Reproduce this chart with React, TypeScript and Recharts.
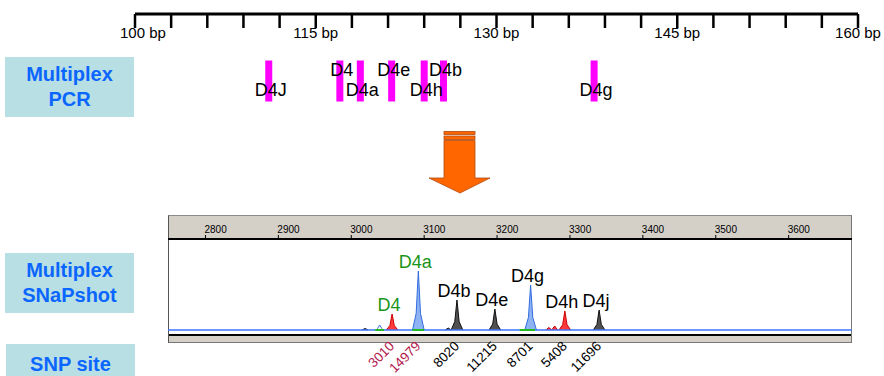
import { Area, ComposedChart, Line, Scatter, XAxis, YAxis } from "recharts";

const FONT = '"Liberation Sans", Arial, sans-serif';

// ruler (bp)
const rulerTicks = [100, 103, 106, 109, 112, 115, 118, 121, 124, 127, 130, 133, 136, 139, 142, 145, 148, 151, 154, 157, 160];
const rulerLabels = [100, 115, 130, 145, 160];

// multiplex PCR products
const pcrLoci = ["D4J", "D4", "D4a", "D4e", "D4h", "D4b", "D4g"];
const pcrSizeBp = [111.1, 117.0, 118.7, 121.3, 124.0, 125.6, 138.1];
const pcrLabelRow = ["low", "high", "low", "high", "low", "high", "low"];

// SNaPshot electropherogram
const scanTicks = [2800, 2900, 3000, 3100, 3200, 3300, 3400, 3500, 3600];
const peakNames = ["D4", "D4a", "D4b", "D4e", "D4g", "D4h", "D4j"];
const peakScan = [3056, 3092, 3145, 3197, 3246, 3293, 3340];
const peakHeight = [16, 59, 30, 21, 45, 19, 20];
const peakDye = ["red", "blue", "black", "black", "blue", "red", "black"];
const peakLabelColor = ["#1a951a", "#1a951a", "#000", "#000", "#000", "#000", "#000"];
const snpIds = ["3010", "14979", "8020", "11215", "8701", "5408", "11696"];
const snpColor = ["#b3164c", "#b3164c", "#000", "#000", "#000", "#000", "#000"];

const minorScan = [3019, 3039, 3133, 3271, 3279];
const minorHeight = [1.5, 5, 2, 2.5, 4];
const minorDye = ["black", "blue", "black", "red", "red"];
const greenSegments = [[3033, 3045], [3084, 3100], [3231, 3252]];

const SCAN_DOMAIN = [2748.6, 3686.9];
const shapeOffsets = [-8, -3, 0, 3, 8];
const shapeFractions = [0, 0.28, 1, 0.28, 0];

const dyeStyle: Record<string, { fill: string; stroke: string }> = {
  red: { fill: "#ff3b3b", stroke: "#cc0000" },
  blue: { fill: "#8db3f2", stroke: "#336ce0" },
  black: { fill: "#505050", stroke: "#111111" },
};

const peakPoints = (center: number, height: number) =>
  shapeOffsets.map((o, i) => ({ x: center + o, y: height * shapeFractions[i] }));

const pcrData = pcrLoci.map((name, i) => ({ name, bp: pcrSizeBp[i], y: 1, row: pcrLabelRow[i] }));
const apexData = peakNames.map((name, i) => ({ name, x: peakScan[i], y: peakHeight[i], color: peakLabelColor[i] }));
const baselineData = [{ x: SCAN_DOMAIN[0], y: 0 }, { x: SCAN_DOMAIN[1], y: 0 }];
const greenData = greenSegments.flatMap(([a, b]) => [{ x: a, y: 0 }, { x: b, y: 0 }, { x: b + 1, y: null }]);

function RulerTick(props: any) {
  const { x, payload } = props;
  const v = payload.value;
  const first = v === rulerTicks[0];
  return (
    <g>
      <line x1={x} x2={x} y1={14} y2={28} stroke="#000" strokeWidth={2.5} />
      {rulerLabels.includes(v) && (
        <text
          x={first ? x - 15 : x}
          y={38}
          textAnchor={first ? "start" : "middle"}
          fontSize={15}
          fontFamily={FONT}
          fill="#000"
        >
          {`${v} bp`}
        </text>
      )}
    </g>
  );
}

function ScanTick(props: any) {
  const { x, payload } = props;
  return (
    <g>
      <line x1={x} x2={x} y1={19} y2={23} stroke="#000" strokeWidth={1} />
      <text x={x - 1} y={17} fontSize={10} fontFamily={FONT} fill="#000">
        {payload.value}
      </text>
    </g>
  );
}

function SnpTick(props: any) {
  const { x, payload } = props;
  const i = peakScan.indexOf(payload.value);
  const px = x + 3;
  const py = 131;
  return (
    <text
      x={px}
      y={py}
      textAnchor="end"
      transform={`rotate(-45 ${px} ${py})`}
      fontSize={13.5}
      fontFamily={FONT}
      fill={snpColor[i]}
    >
      {snpIds[i]}
    </text>
  );
}

function LabelBox({ top, left, height, lines }: { top: number; left: number; height: number; lines: string[] }) {
  return (
    <div
      style={{
        position: "absolute",
        left,
        top,
        width: 129,
        height,
        background: "#b8dfe3",
        color: "#0a66ff",
        fontFamily: FONT,
        fontWeight: "bold",
        fontSize: 20,
        lineHeight: "25px",
        display: "flex",
        flexDirection: "column",
        alignItems: "center",
        justifyContent: "center",
      }}
    >
      {lines.map((l) => (
        <div key={l}>{l}</div>
      ))}
    </div>
  );
}

export default function App() {
  return (
    <div
      style={{
        position: "absolute",
        left: 0,
        top: 0,
        width: 884,
        height: 376,
        overflow: "hidden",
        background: "#fff",
        fontFamily: FONT,
      }}
    >
      <LabelBox left={5} top={57} height={60} lines={["Multiplex", "PCR"]} />
      <LabelBox left={5} top={253} height={60} lines={["Multiplex", "SNaPshot"]} />
      <LabelBox left={6} top={344} height={40} lines={["SNP site"]} />

      {/* ruler + PCR products */}
      <div style={{ position: "absolute", left: 0, top: 0 }}>
        <ComposedChart width={884} height={147} data={pcrData} margin={{ top: 0, right: 26, left: 135, bottom: 0 }}>
          <XAxis
            dataKey="bp"
            type="number"
            orientation="top"
            domain={[100, 160]}
            ticks={rulerTicks}
            interval={0}
            height={14}
            axisLine={{ stroke: "#000", strokeWidth: 3 }}
            tickLine={false}
            tick={<RulerTick />}
          />
          <YAxis dataKey="y" type="number" domain={[0, 2]} hide />
          <Scatter
            isAnimationActive={false}
            shape={(p: any) => <rect x={p.cx - 3.5} y={p.cy - 20} width={7} height={41} fill="#ff00ff" />}
          />
          <Scatter
            isAnimationActive={false}
            shape={(p: any) => (
              <text
                x={p.cx + 2}
                y={p.payload.row === "high" ? p.cy - 5 : p.cy + 15}
                textAnchor="middle"
                fontSize={18}
                fontFamily={FONT}
                fill="#000"
              >
                {p.payload.name}
              </text>
            )}
          />
        </ComposedChart>
      </div>

      {/* arrow */}
      <svg style={{ position: "absolute", left: 0, top: 0 }} width={884} height={376}>
        <rect x={444} y={131.5} width={31} height={3} fill="#ff6600" stroke="#b04a10" strokeWidth={0.8} />
        <rect x={444} y={136} width={31} height={3.5} fill="#ff6600" stroke="#b04a10" strokeWidth={0.8} />
        <polygon
          points="444,140.5 475,140.5 475,178 490,178 460,193 429,178 444,178"
          fill="#ff6600"
          stroke="#b04a10"
          strokeWidth={0.8}
        />
      </svg>

      {/* electropherogram frame */}
      <div
        style={{
          position: "absolute",
          left: 168,
          top: 215,
          width: 682,
          height: 126,
          background: "#d4d0c8",
          borderTop: "1px solid #8a8a8a",
          borderLeft: "1.5px solid #555",
          borderRight: "1.5px solid #777",
          borderBottom: "1px solid #777",
        }}
      />
      <div style={{ position: "absolute", left: 169, top: 240, width: 682, height: 94, background: "#fff" }} />
      <div style={{ position: "absolute", left: 169, top: 334, width: 682, height: 2, background: "#000" }} />

      <div style={{ position: "absolute", left: 168, top: 216 }}>
        <ComposedChart width={684} height={160} margin={{ top: 0, right: 0, left: 0, bottom: 0 }}>
          <XAxis
            xAxisId="scan"
            dataKey="x"
            type="number"
            orientation="top"
            domain={SCAN_DOMAIN}
            allowDataOverflow
            ticks={scanTicks}
            interval={0}
            height={23}
            axisLine={{ stroke: "#000", strokeWidth: 2 }}
            tickLine={false}
            tick={<ScanTick />}
          />
          <XAxis
            xAxisId="snp"
            dataKey="x"
            type="number"
            orientation="bottom"
            domain={SCAN_DOMAIN}
            allowDataOverflow
            ticks={peakScan}
            interval={0}
            height={42}
            axisLine={false}
            tickLine={false}
            tick={<SnpTick />}
          />
          <YAxis yAxisId="rfu" dataKey="y" type="number" domain={[-4, 91]} allowDataOverflow hide />
          <Line
            xAxisId="scan"
            yAxisId="rfu"
            data={baselineData}
            dataKey="y"
            stroke="#3a74ff"
            strokeWidth={1.5}
            dot={false}
            isAnimationActive={false}
          />
          {minorScan.map((c, i) => (
            <Area
              key={`m${i}`}
              xAxisId="scan"
              yAxisId="rfu"
              data={peakPoints(c, minorHeight[i]).map((p, k) => (k === 0 || k === 4 ? { ...p, x: c + (p.x - c) * 0.5 } : p))}
              dataKey="y"
              type="linear"
              fill={minorDye[i] === "blue" ? "#ffffff" : dyeStyle[minorDye[i]].fill}
              fillOpacity={1}
              stroke={dyeStyle[minorDye[i]].stroke}
              strokeWidth={1}
              dot={false}
              activeDot={false}
              isAnimationActive={false}
            />
          ))}
          <Line
            xAxisId="scan"
            yAxisId="rfu"
            data={greenData}
            dataKey="y"
            stroke="#22bb22"
            strokeWidth={2}
            dot={false}
            connectNulls={false}
            isAnimationActive={false}
          />
          {peakScan.map((c, i) => (
            <Area
              key={peakNames[i]}
              xAxisId="scan"
              yAxisId="rfu"
              data={peakPoints(c, peakHeight[i])}
              dataKey="y"
              type="linear"
              fill={dyeStyle[peakDye[i]].fill}
              fillOpacity={1}
              stroke={dyeStyle[peakDye[i]].stroke}
              strokeWidth={1}
              dot={false}
              activeDot={false}
              isAnimationActive={false}
            />
          ))}
          <Scatter
            xAxisId="scan"
            yAxisId="rfu"
            data={apexData}
            isAnimationActive={false}
            shape={(p: any) => (
              <text
                x={p.cx - 3}
                y={p.cy - 3}
                textAnchor="middle"
                fontSize={18}
                fontFamily={FONT}
                fill={p.payload.color}
              >
                {p.payload.name}
              </text>
            )}
          />
        </ComposedChart>
      </div>
    </div>
  );
}
